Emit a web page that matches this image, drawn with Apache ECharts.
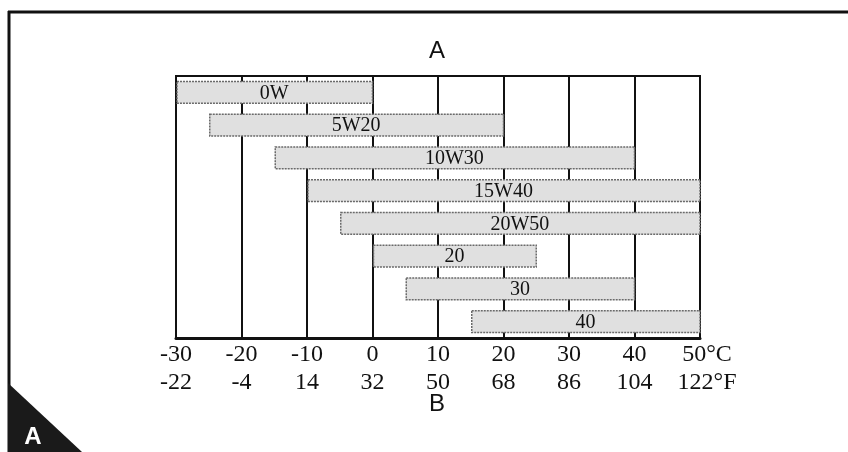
<!DOCTYPE html>
<html>
<head>
<meta charset="utf-8">
<script src="https://cdn.jsdelivr.net/npm/echarts@6/dist/echarts.min.js"></script>
<style>html,body{margin:0;padding:0;background:#fff;}#c{width:848px;height:452px;}</style>
</head>
<body>
<div id="c"></div>
<script>
// Data
var grades = ['0W', '5W20', '10W30', '15W40', '20W50', '20', '30', '40'];
var rangeStart = [-30, -25, -15, -10, -5, 0, 5, 15];
var rangeEnd = [0, 20, 40, 50, 50, 25, 40, 50];
var celsiusLabels = ['-30', '-20', '-10', '0', '10', '20', '30', '40', '50°C'];
var fahrenheitLabels = ['-22', '-4', '14', '32', '50', '68', '86', '104', '122°F'];
var celsiusTicks = [-30, -20, -10, 0, 10, 20, 30, 40, 50];

var chart = echarts.init(document.getElementById('c'), null, {renderer: 'canvas'});
var data = grades.map(function (g, i) { return [rangeStart[i], rangeEnd[i], i]; });

function labelFor(arr) {
  return function (v) {
    var idx = celsiusTicks.indexOf(v);
    if (idx < 0) return '';
    return idx === arr.length - 1 ? '{last|' + arr[idx] + '}' : arr[idx];
  };
}

var serif = '"Liberation Serif", "DejaVu Serif", serif';
var sans = '"Liberation Sans", Arial, sans-serif';
var labelRich = {last: {fontFamily: serif, fontSize: 24, color: '#111', padding: [0, 0, 0, 14]}};

chart.setOption({
  backgroundColor: '#fff',
  animation: false,
  grid: {left: 176, right: 148, top: 76, bottom: 114, show: true, borderColor: '#111', borderWidth: 2, backgroundColor: 'transparent'},
  xAxis: [{
    type: 'value', min: -30, max: 50, interval: 10, position: 'bottom',
    axisLine: {show: true, onZero: false, lineStyle: {color: '#111', width: 3}},
    axisTick: {show: false},
    splitLine: {show: true, lineStyle: {color: '#111', width: 2}},
    axisLabel: {formatter: labelFor(celsiusLabels), color: '#111', fontFamily: serif, fontSize: 24, margin: 5, rich: labelRich}
  }, {
    type: 'value', min: -30, max: 50, interval: 10, position: 'bottom', offset: 28,
    axisLine: {show: false}, axisTick: {show: false}, splitLine: {show: false},
    axisLabel: {formatter: labelFor(fahrenheitLabels), color: '#111', fontFamily: serif, fontSize: 24, margin: 5, rich: labelRich}
  }],
  yAxis: {
    type: 'category', data: grades, inverse: true, show: false
  },
  series: [{
    type: 'custom',
    xAxisIndex: 0,
    data: data,
    encode: {x: [0, 1], y: 2},
    renderItem: function (params, api) {
      var s = api.coord([api.value(0), api.value(2)]);
      var e = api.coord([api.value(1), api.value(2)]);
      var h = api.size([0, 1])[1] * 0.67;
      var name = grades[api.value(2)];
      return {
        type: 'group',
        children: [{
          type: 'rect',
          shape: {x: s[0] + 1, y: s[1] - h / 2, width: e[0] - s[0] - 1, height: h},
          style: {fill: '#e0e0e0', stroke: '#6a6a6a', lineWidth: 1.5, lineDash: [2, 1]}
        }, {
          type: 'text',
          style: {
            text: name, x: (s[0] + e[0]) / 2, y: s[1] + 1,
            align: 'center', verticalAlign: 'middle',
            font: '20px ' + serif, fill: '#111'
          }
        }]
      };
    }
  }],
  graphic: [
    {type: 'text', style: {text: 'A', x: 437, y: 51, align: 'center', verticalAlign: 'middle', font: '24px ' + sans, fill: '#111'}},
    {type: 'text', style: {text: 'B', x: 437, y: 404, align: 'center', verticalAlign: 'middle', font: '24px ' + sans, fill: '#111'}},
    {type: 'line', shape: {x1: 8, y1: 12, x2: 848, y2: 12}, style: {stroke: '#111', lineWidth: 3}},
    {type: 'line', shape: {x1: 9, y1: 11, x2: 9, y2: 452}, style: {stroke: '#111', lineWidth: 3}},
    {type: 'polygon', shape: {points: [[8, 383], [8, 452], [82, 452]]}, style: {fill: '#1a1a1a'}},
    {type: 'text', style: {text: 'A', x: 33, y: 437, align: 'center', verticalAlign: 'middle', font: 'bold 24px ' + sans, fill: '#fff'}}
  ]
});
</script>
</body>
</html>
